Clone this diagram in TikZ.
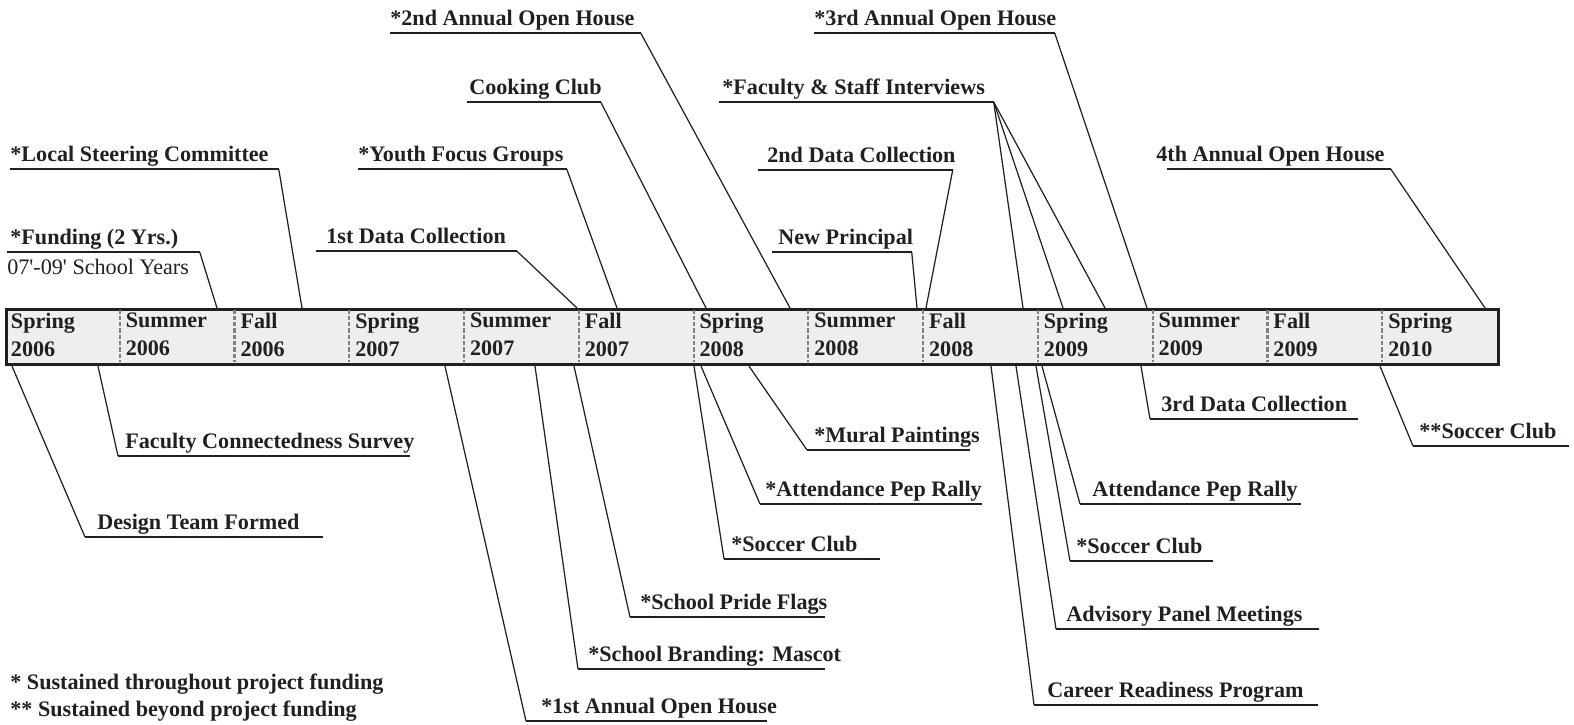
\documentclass[tikz,border=0pt]{standalone}
\usepackage{fontspec}
\setmainfont{Liberation Serif}
\usepackage{xcolor}
\usetikzlibrary{positioning}

\definecolor{inkblack}{HTML}{231F20}
\definecolor{barfill}{HTML}{EEEEEE}
\definecolor{divgray}{HTML}{808080}

\newlength\pxu
\setlength\pxu{0.02cm}
\newcommand\lblfont{\bfseries\fontsize{12.6}{16}\selectfont}

\begin{document}
\begin{tikzpicture}[x=0.02cm, y=-0.02cm,
    barbox/.style={rectangle, draw=inkblack, line width=1.8pt, fill=barfill, minimum width=29.84cm, minimum height=1.1cm, anchor=north west, inner sep=0pt},
    cell/.style={anchor=north west, align=left, inner sep=1.5pt, font=\lblfont, text=inkblack},
    divider/.style={draw=divgray, line width=1.2pt, dash pattern=on 2.4pt off 1.2pt},
    lbl/.style 2 args={anchor=south west, inner xsep=0pt, inner ysep=1pt, text depth=3pt, font=\lblfont, text=inkblack,
      execute at begin node={\hbox to #1\pxu\bgroup\hspace*{#2\pxu}},
      execute at end node={\hss\egroup}},
    note/.style={font=\fontsize{12.6}{16}\selectfont, text=inkblack, inner sep=0pt},
    key/.style={anchor=base west, inner sep=0pt, font=\lblfont, text=inkblack},
    uline/.style={draw=inkblack, line width=1.1pt},
    lead/.style={draw=inkblack, line width=0.7pt}
  ]
    \useasboundingbox (0,0) rectangle (1574,724);

    % timeline bar
    \node[barbox] (bar) at (5,308) {};
    \foreach \ssn/\yy [count=\i from 0] in {Spring/2006, Summer/2006, Fall/2006, Spring/2007, Summer/2007, Fall/2007, Spring/2008, Summer/2008, Fall/2008, Spring/2009, Summer/2009, Fall/2009, Spring/2010}
      \node[cell] (c\i) at ({8+114.77*\i}, 310) {\ssn\\\yy};
    \foreach \i in {1,...,12}
      \draw[divider] ({5+114.77*\i}, 309.5) -- ({5+114.77*\i}, 361.5);

    % events above the bar
    \node[lbl={268}{0}] (lsc) at (10,169) {*Local Steering Committee};
    \node[lbl={192}{3}] (fund) at (7,252) {*Funding (2 Yrs.)};
    \node[note, below=4pt of fund.south west, anchor=north west] (fundnote) {07\textquotesingle-09\textquotesingle{} School Years};
    \node[lbl={200}{10}] (dc1) at (316,251) {1st Data Collection};
    \node[lbl={208}{0}] (yfg) at (358,169) {*Youth Focus Groups};
    \node[lbl={250}{0}] (oh2) at (390,33) {*2nd Annual Open House};
    \node[lbl={133}{2}] (cook) at (467,102) {Cooking Club};
    \node[lbl={274}{3}] (fsi) at (719,102) {*Faculty \& Staff Interviews};
    \node[lbl={194}{9}] (dc2) at (758,170) {2nd Data Collection};
    \node[lbl={139}{6}] (np) at (772,252) {New Principal};
    \node[lbl={240}{0}] (oh3) at (814,33) {*3rd Annual Open House};
    \node[lbl={223}{-11}] (oh4) at (1167,169) {4th Annual Open House};

    % events below the bar
    \node[lbl={237}{12}] (dtf) at (85,537) {Design Team Formed};
    \node[lbl={291}{7}] (fcs) at (118,456) {Faculty Connectedness Survey};
    \node[lbl={240}{15}] (oh1) at (526,721) {*1st Annual Open House};
    \node[lbl={246}{10}] (mas) at (578,669) {*School Branding: Mascot};
    \node[lbl={194}{10}] (spf) at (630,617) {*School Pride Flags};
    \node[lbl={155}{7}] (sc1) at (724,559) {*Soccer Club};
    \node[lbl={221}{5}] (apr1) at (760,504) {*Attendance Pep Rally};
    \node[lbl={162}{7}] (mur) at (807,450) {*Mural Paintings};
    \node[lbl={283}{13}] (crp) at (1034,705) {Career Readiness Program};
    \node[lbl={262}{10}] (apm) at (1056,629) {Advisory Panel Meetings};
    \node[lbl={142}{6}] (sc2) at (1070,561) {*Soccer Club};
    \node[lbl={220}{12}] (apr2) at (1080,504) {Attendance Pep Rally};
    \node[lbl={207}{11}] (dc3) at (1150,419) {3rd Data Collection};
    \node[lbl={155}{6}] (sc3) at (1413,446) {**Soccer Club};

    \foreach \n in {lsc,fund,dc1,yfg,oh2,cook,fsi,dc2,np,oh3,oh4,dtf,fcs,oh1,mas,spf,sc1,apr1,mur,crp,apm,sc2,apr2,dc3,sc3}
      \draw[uline] (\n.south west) -- (\n.south east);

    % leaders to the bar
    \draw[lead] (lsc.south east) -- (302,0 |- bar.north);
    \draw[lead] (fund.south east) -- (217,0 |- bar.north);
    \draw[lead] (dc1.south east) -- (577,0 |- bar.north);
    \draw[lead] (yfg.south east) -- (617,0 |- bar.north);
    \draw[lead] (oh2.south east) -- (790,0 |- bar.north);
    \draw[lead] (cook.south east) -- (706,0 |- bar.north);
    \draw[lead] (fsi.south east) -- (1023,0 |- bar.north);
    \draw[lead] (fsi.south east) -- (1063,0 |- bar.north);
    \draw[lead] (fsi.south east) -- (1105,0 |- bar.north);
    \draw[lead] (dc2.south east) -- (926,0 |- bar.north);
    \draw[lead] (np.south east) -- (917,0 |- bar.north);
    \draw[lead] (oh3.south east) -- (1147,0 |- bar.north);
    \draw[lead] (oh4.south east) -- (1485,0 |- bar.north);

    \draw[lead] (12,0 |- bar.south) -- (dtf.south west);
    \draw[lead] (98,0 |- bar.south) -- (fcs.south west);
    \draw[lead] (445,0 |- bar.south) -- (oh1.south west);
    \draw[lead] (535,0 |- bar.south) -- (mas.south west);
    \draw[lead] (574,0 |- bar.south) -- (spf.south west);
    \draw[lead] (694,0 |- bar.south) -- (sc1.south west);
    \draw[lead] (701,0 |- bar.south) -- (apr1.south west);
    \draw[lead] (749,0 |- bar.south) -- (mur.south west);
    \draw[lead] (991,0 |- bar.south) -- (crp.south west);
    \draw[lead] (1016,0 |- bar.south) -- (apm.south west);
    \draw[lead] (1036,0 |- bar.south) -- (sc2.south west);
    \draw[lead] (1042,0 |- bar.south) -- (apr2.south west);
    \draw[lead] (1141,0 |- bar.south) -- (dc3.south west);
    \draw[lead] (1380,0 |- bar.south) -- (sc3.south west);

    % key
    \node[key] (key1) at (10,689) {* Sustained throughout project funding};
    \node[key] (key2) at (10,716) {** Sustained beyond project funding};
\end{tikzpicture}
\end{document}
